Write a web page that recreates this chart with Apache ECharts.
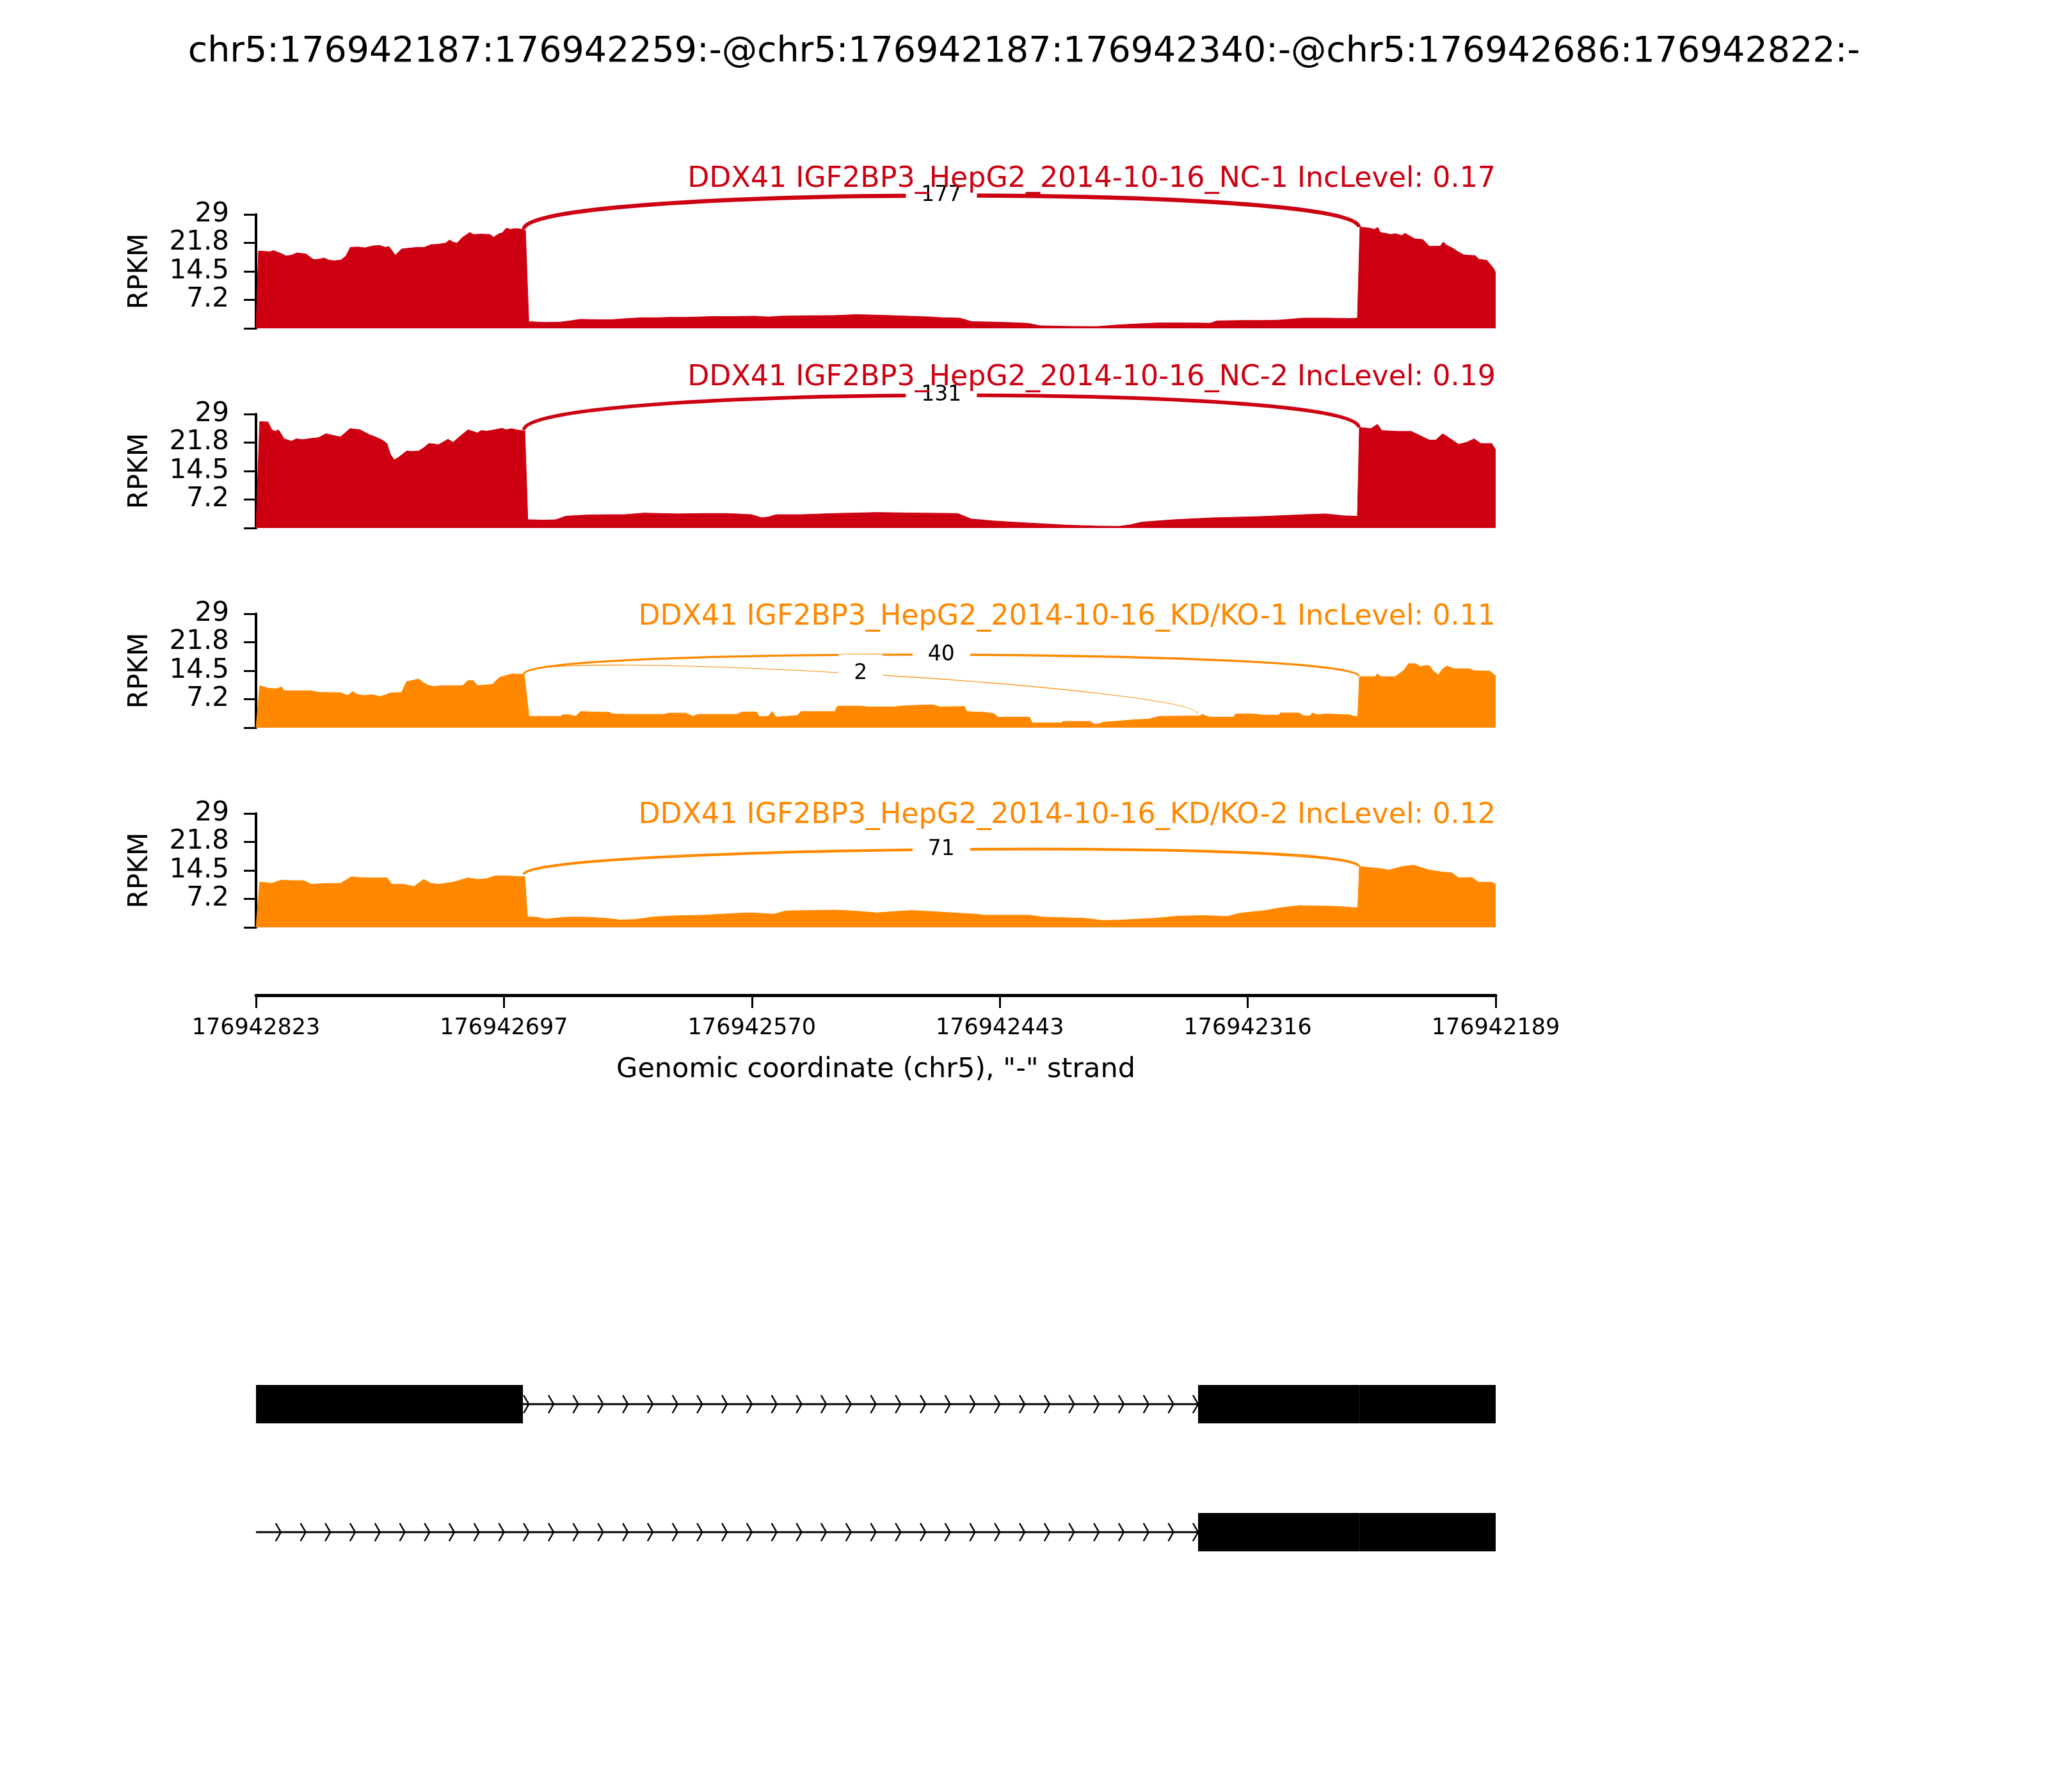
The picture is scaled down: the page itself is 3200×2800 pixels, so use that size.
<!DOCTYPE html>
<html><head><meta charset="utf-8">
<script src="https://cdn.jsdelivr.net/npm/echarts@6/dist/echarts.min.js"></script>
<style>html,body{margin:0;padding:0;background:#fff}#c{width:3200px;height:2800px}</style>
</head><body><div id="c"></div>
<script>
// ---------------- data ----------------
const mainTitle = 'chr5:176942187:176942259:-@chr5:176942187:176942340:-@chr5:176942686:176942822:-';
const panelTitles = [
  'DDX41 IGF2BP3_HepG2_2014-10-16_NC-1 IncLevel: 0.17',
  'DDX41 IGF2BP3_HepG2_2014-10-16_NC-2 IncLevel: 0.19',
  'DDX41 IGF2BP3_HepG2_2014-10-16_KD/KO-1 IncLevel: 0.11',
  'DDX41 IGF2BP3_HepG2_2014-10-16_KD/KO-2 IncLevel: 0.12'
];
const panelColors = ['#CC0011', '#CC0011', '#FF8800', '#FF8800'];
const xTickLabels = ['176942823', '176942697', '176942570', '176942443', '176942316', '176942189'];
const yTickLabels = ['', '7.2', '14.5', '21.8', '29'];
const xAxisName = 'Genomic coordinate (chr5), "-" strand';
const yAxisName = 'RPKM';

// coverage: [offset from 176942823 (bp), RPKM]
const cov1 = [[0,0],[1.3,19.7],[4,19.6],[7,19.5],[9,19.8],[11.5,19.3],[13.5,18.9],[15.4,18.4],[18,18.6],[21,19.2],[25.7,18.9],[28,18.0],[29.5,17.5],[32,17.6],[35,17.9],[37,17.4],[39.8,17.2],[43.5,17.4],[46,18.4],[48.2,20.6],[52,20.7],[55.8,20.5],[60,21.0],[63.3,21.1],[66,20.6],[68,20.8],[69.5,19.8],[71.2,18.6],[74.5,20.2],[78,20.4],[82,20.6],[86,20.6],[89.5,21.3],[93,21.4],[97,21.7],[99,22.5],[101,21.9],[102.8,21.7],[105.5,23.1],[109.3,24.4],[111.2,23.9],[115,24.0],[119.6,23.9],[121.5,23.2],[124.4,24.1],[126,24.3],[128,25.5],[130,25.2],[132.8,25.4],[136.5,25.2],[137.8,25.0],[139.5,1.7],[144,1.6],[148,1.5],[156,1.6],[162,2.0],[166,2.3],[175,2.2],[182,2.2],[190,2.5],[197,2.7],[205,2.7],[211,2.8],[220,2.8],[234,3.0],[245,3.0],[255,3.1],[262,2.9],[268,3.1],[280,3.2],[296,3.25],[307,3.5],[319,3.35],[334,3.1],[345,2.9],[351,2.7],[360,2.6],[366,1.7],[377,1.6],[390,1.4],[395,1.25],[401,0.65],[415,0.5],[430,0.45],[439,0.8],[446,1.0],[453.7,1.2],[462,1.4],[475,1.4],[488,1.3],[491.6,1.9],[505,2.0],[515,2.0],[523.7,2.1],[535.5,2.6],[548,2.6],[558.8,2.5],[563.3,2.6],[564.6,25.8],[569.6,25.5],[572,25.2],[573.7,25.7],[575,24.4],[578.3,24.1],[580.4,23.9],[583,24.1],[585.9,23.6],[587.6,24.2],[592.5,22.8],[596.7,22.6],[600,20.9],[605.6,20.9],[607.2,22.0],[608.8,21.2],[612,20.4],[614.7,19.5],[617.7,18.7],[623.6,18.5],[625.3,17.6],[629.5,17.3],[631,16.4],[633,15.2],[634,14.1]];
const cov2 = [[0,0],[1.9,27.1],[6.1,27.0],[8.1,25.0],[10,24.6],[11.5,25.0],[14.4,22.7],[18.1,22.1],[20.6,22.7],[24,22.5],[28.2,22.8],[32,23.0],[35.7,24.0],[40,23.5],[43.2,23.2],[48.1,25.3],[53.2,25.0],[58.2,23.7],[61,23.2],[64.5,22.4],[67,21.5],[68.7,18.8],[70.7,17.3],[73.2,18.1],[77,19.6],[80,19.5],[83.2,19.6],[86,20.5],[88.3,21.5],[91,21.4],[93.3,21.2],[98.2,22.6],[100.8,21.8],[104,23.2],[108.4,25.0],[113.3,24.2],[115,24.8],[118.2,24.7],[122.1,25.0],[125.8,25.4],[128,25.0],[130.8,25.3],[133,25.0],[135.8,24.8],[137.5,24.8],[139,2.1],[140.8,2.1],[147,2.0],[153.3,2.1],[158.4,3.0],[168.4,3.3],[178.4,3.4],[188.4,3.4],[198.4,3.8],[216,3.6],[228.5,3.7],[241,3.7],[253.5,3.4],[258.6,2.6],[262,2.8],[266,3.4],[278.6,3.4],[296,3.7],[317.5,3.95],[340,3.8],[358.8,3.7],[365.8,2.3],[377.2,1.8],[395.6,1.25],[405,1.0],[416.3,0.7],[430,0.5],[441.6,0.43],[447,0.8],[453,1.5],[469,2.1],[489.7,2.6],[512.7,2.9],[535.7,3.4],[547,3.6],[556.5,3.1],[563.3,3.0],[564.3,25.6],[570.2,25.3],[573.5,26.4],[575.8,24.8],[584,24.6],[590.8,24.6],[595,23.6],[600,22.4],[603.4,22.4],[606.9,24.0],[610,23.0],[615,21.3],[619,21.8],[623,22.7],[626.4,21.5],[632,21.5],[634,19.9]];
const cov3 = [[0,0],[1.9,10.7],[5.6,10.1],[10.6,9.9],[13.1,10.4],[14.4,9.4],[28.2,9.4],[31.9,9.0],[43.2,8.9],[46.9,8.2],[49.4,9.2],[51.5,8.5],[54.4,8.2],[60,8.4],[63.2,7.9],[66,8.3],[68.2,8.8],[74.5,9.0],[77,11.7],[83.3,12.4],[85.8,11.4],[88,10.8],[90.8,10.5],[95.7,10.7],[105.7,10.7],[108.3,12.0],[111,12.0],[113.3,10.7],[120.8,11.0],[124.5,12.8],[130.8,13.7],[137.2,13.6],[139.6,2.9],[155.8,2.9],[157,3.3],[160,3.3],[163.4,2.9],[166,4.1],[181,3.9],[182,3.5],[191,3.4],[208.5,3.4],[211,3.7],[219.7,3.7],[223.5,2.9],[226,3.4],[246,3.4],[248.5,4.0],[256,4.0],[257.3,2.8],[262,2.9],[264,4.1],[266,2.7],[271,2.9],[277,3.1],[278.6,4.1],[296,4.1],[297.4,5.5],[308.7,5.5],[313,5.3],[327,5.3],[329,5.5],[340.4,5.76],[347,5.76],[349.6,5.3],[362.4,5.4],[363.4,4.1],[372.7,3.9],[377.2,3.6],[379.6,2.66],[395.6,2.7],[396.9,1.25],[411.7,1.25],[412.9,1.6],[426.6,1.6],[428.9,0.87],[431,1.0],[433.4,1.4],[441.6,1.7],[448.4,2.0],[456.5,2.2],[462.2,2.9],[482.8,3.0],[484,3.4],[487.4,2.7],[500,2.7],[501,3.5],[510,3.5],[515,3.2],[523,3.2],[524,3.75],[533.4,3.75],[535.7,3.0],[539,3.0],[540.3,3.75],[542.6,3.3],[547,3.5],[558.7,3.3],[562,2.9],[563.5,2.9],[564.3,13.0],[572.4,13.0],[573.5,13.75],[575.1,13.0],[582.7,13.0],[584.5,13.7],[587.2,14.7],[589.5,16.3],[593.1,16.3],[595.4,15.55],[598,15.8],[600,15.8],[602,14.5],[604.6,13.4],[606.9,15.0],[609.2,15.7],[612.6,15.0],[620.6,15.0],[623,14.5],[631,14.4],[634,13.2]];
const cov4 = [[0,0],[1.9,11.5],[5,11.4],[8.1,11.2],[13.1,12.05],[18,11.9],[24.4,11.9],[28.2,10.96],[35.7,11.2],[43.2,11.2],[48.9,12.9],[52,12.7],[58.3,12.6],[67,12.6],[69.5,10.96],[75.6,10.96],[80.8,10.4],[85.8,12.2],[89.5,11.2],[93.3,10.96],[100.8,11.5],[108.3,12.6],[113.3,12.2],[118,12.4],[122.1,13.1],[128.3,13.1],[135.8,12.9],[137.5,12.9],[138.8,2.66],[143.4,2.6],[148.3,2.1],[158.4,2.6],[168.4,2.6],[178.4,2.33],[185.9,1.9],[193.5,1.98],[203.4,2.66],[213.4,2.93],[228.5,3.1],[248.5,3.64],[253.5,3.7],[264.8,3.37],[271,4.2],[285,4.3],[296,4.4],[305,4.2],[317.5,3.7],[334.9,4.3],[349.6,3.9],[368,3.37],[372.7,3.1],[395.6,3.1],[402.6,2.6],[423.2,2.33],[433.5,1.74],[443.9,1.9],[460,2.33],[471.4,2.85],[485,3.0],[496.6,2.77],[503.4,3.64],[515,4.2],[524.2,5.0],[533.4,5.54],[547.2,5.4],[555,5.3],[562,5.0],[563.5,5.0],[564.3,15.5],[570,15.2],[574.8,15.0],[579.4,14.6],[586.3,15.5],[592,15.85],[596,15.2],[600,14.6],[607,14.06],[611.5,13.9],[615,12.6],[621.8,12.7],[625.2,11.5],[632,11.5],[634,10.96]];

// junctions: [donor offset, acceptor offset, left RPKM, right RPKM, arc height (RPKM), read count]
const junc1 = [[137, 564, 25.3, 25.8, 11.0, 177]];
const junc2 = [[137, 564, 25.0, 25.6, 11.3, 131]];
const junc3 = [[137, 564, 13.7, 13.1, 6.9, 40], [137, 481.5, 13.7, 3.5, 6.8, 2]];
const junc4 = [[137, 564, 13.5, 15.5, 7.1, 71]];

// gene structure (offsets in bp), isoform categories
const isoforms = ['isoform2', 'isoform1'];
const exonsIso1 = [[0, 136.5], [481.8, 564], [564, 634]];
const intronsIso1 = [[136.5, 481.8]];
const exonsIso2 = [[481.8, 564], [564, 634]];
const intronsIso2 = [[0, 481.8]];
const strandArrows = [12.7,25.4,38.0,50.7,63.4,76.1,88.8,101.4,114.1,126.8,139.5,152.2,164.8,177.5,190.2,202.9,215.6,228.2,240.9,253.6,266.3,279.0,291.6,304.3,317.0,329.7,342.4,355.0,367.7,380.4,393.1,405.8,418.4,431.1,443.8,456.5,469.2,481.8];

// ---------------- chart ----------------
const FONT = '"DejaVu Sans", "Liberation Sans", sans-serif';
const X_MIN = 0, X_MAX = 634, X_INT = 126.8;
const covs = [cov1, cov2, cov3, cov4];
const juncs = [junc1, junc2, junc3, junc4];
const panelTops = [335, 647, 959, 1271];
const panelH = 178;
const titleTops = [258, 568, 942, 1252];
const L = 400, R = 863;

const grids = [], xAxes = [], yAxes = [], series = [];
for (let i = 0; i < 4; i++) {
  grids.push({left: L, right: R, top: panelTops[i], height: panelH});
  xAxes.push({gridIndex: i, type: 'value', min: X_MIN, max: X_MAX, show: false});
  yAxes.push({
    gridIndex: i, type: 'value', min: 0, max: 29, interval: 7.25,
    name: yAxisName, nameLocation: 'middle', nameGap: 160, nameRotate: 90,
    nameTextStyle: {fontSize: 42, color: '#000', fontFamily: FONT},
    axisLine: {show: true, onZero: false, lineStyle: {color: '#000', width: 4}},
    axisTick: {show: true, length: 19, lineStyle: {color: '#000', width: 3}},
    axisLabel: {margin: 42, fontSize: 42, color: '#000', fontFamily: FONT,
      formatter: (v, idx) => yTickLabels[idx] == null ? '' : yTickLabels[idx]},
    splitLine: {show: false}
  });
  series.push({
    type: 'line', xAxisIndex: i, yAxisIndex: i, data: covs[i], symbol: 'none',
    lineStyle: {width: 1, color: panelColors[i]}, itemStyle: {color: panelColors[i]},
    areaStyle: {color: panelColors[i], opacity: 1}, z: 2, animation: false
  });
  const color = panelColors[i];
  series.push({
    type: 'custom', xAxisIndex: i, yAxisIndex: i, data: juncs[i], clip: false, z: 3,
    encode: {x: [0, 1], y: [2, 3]},
    renderItem: function (params, api) {
      const x1 = api.value(0), x2 = api.value(1), y1 = api.value(2), y2 = api.value(3), h = api.value(4), n = api.value(5);
      const p0 = api.coord([x1, y1]), p1 = api.coord([x1, y1 + h]), p2 = api.coord([x2, y2 + h]), p3 = api.coord([x2, y2]);
      const mx = (p0[0] + 3 * p1[0] + 3 * p2[0] + p3[0]) / 8;
      const my = (p0[1] + 3 * p1[1] + 3 * p2[1] + p3[1]) / 8;
      const w = 0.5 + 0.45 * Math.sqrt(n);
      return {type: 'group', children: [
        {type: 'bezierCurve', z2: 1,
          shape: {x1: p0[0], y1: p0[1], cpx1: p1[0], cpy1: p1[1], cpx2: p2[0], cpy2: p2[1], x2: p3[0], y2: p3[1]},
          style: {stroke: color, lineWidth: w, fill: 'none'}},
        {type: 'text', z2: 100, x: mx, y: my,
          style: {text: String(n), fill: '#000', fontSize: 33, fontFamily: FONT, align: 'center', verticalAlign: 'middle',
            backgroundColor: '#fff', padding: [14, 24]}}
      ]};
    }
  });
}

// genomic coordinate axis
grids.push({left: L, right: R, top: 1455, height: 100});
xAxes.push({
  gridIndex: 4, type: 'value', min: X_MIN, max: X_MAX, interval: X_INT, position: 'bottom',
  name: xAxisName, nameLocation: 'middle', nameGap: 95,
  nameTextStyle: {fontSize: 43, color: '#000', fontFamily: FONT},
  axisLine: {show: true, onZero: false, lineStyle: {color: '#000', width: 5}},
  axisTick: {show: true, length: 20, lineStyle: {color: '#000', width: 3}},
  axisLabel: {margin: 34, fontSize: 35, color: '#000', fontFamily: FONT, showMinLabel: true, showMaxLabel: true,
    formatter: (v, idx) => xTickLabels[idx] == null ? '' : xTickLabels[idx]},
  splitLine: {show: false}
});
yAxes.push({gridIndex: 4, type: 'value', min: 0, max: 1, show: false});

// gene structure
grids.push({left: L, right: R, top: 2094, height: 400});
xAxes.push({gridIndex: 5, type: 'value', min: X_MIN, max: X_MAX, show: false});
yAxes.push({gridIndex: 5, type: 'category', data: isoforms, show: false});

const intronData = intronsIso1.map(d => [d[0], d[1], 1]).concat(intronsIso2.map(d => [d[0], d[1], 0]));
const exonData = exonsIso1.map(d => [d[0], d[1], 1]).concat(exonsIso2.map(d => [d[0], d[1], 0]));
const arrowData = [];
intronsIso1.forEach(r => strandArrows.forEach(p => { if (p > r[0] && p <= r[1] + 0.5) arrowData.push([p, 1]); }));
intronsIso2.forEach(r => strandArrows.forEach(p => { if (p > r[0] && p <= r[1] + 0.5) arrowData.push([p, 0]); }));

series.push({
  type: 'custom', xAxisIndex: 5, yAxisIndex: 5, data: intronData, encode: {x: [0, 1], y: 2}, z: 3,
  renderItem: (params, api) => {
    const s = api.coord([api.value(0), api.value(2)]), e = api.coord([api.value(1), api.value(2)]);
    return {type: 'line', shape: {x1: s[0], y1: s[1], x2: e[0], y2: e[1]}, style: {stroke: '#000', lineWidth: 3}};
  }
});
series.push({
  type: 'custom', xAxisIndex: 5, yAxisIndex: 5, data: arrowData, encode: {x: 0, y: 1}, z: 3,
  renderItem: (params, api) => {
    const p = api.coord([api.value(0), api.value(1)]);
    return {type: 'polyline', shape: {points: [[p[0] - 8, p[1] - 14], [p[0], p[1]], [p[0] - 8, p[1] + 14]]},
      style: {stroke: '#000', lineWidth: 2.5, fill: 'none'}};
  }
});
series.push({
  type: 'custom', xAxisIndex: 5, yAxisIndex: 5, data: exonData, encode: {x: [0, 1], y: 2}, z: 4,
  renderItem: (params, api) => {
    const s = api.coord([api.value(0), api.value(2)]), e = api.coord([api.value(1), api.value(2)]);
    return {type: 'rect', shape: {x: s[0], y: s[1] - 30, width: e[0] - s[0], height: 60}, style: {fill: '#000'}};
  }
});

const titles = [{text: mainTitle, left: 'center', top: 54, padding: 0, z: 12,
  textStyle: {fontSize: 55.4, fontWeight: 'normal', color: '#000', fontFamily: FONT}}];
panelTitles.forEach((t, i) => titles.push({text: t, right: R, top: titleTops[i], padding: 0, z: 12,
  textStyle: {fontSize: 44.3, fontWeight: 'normal', color: panelColors[i], fontFamily: FONT}}));

const chart = echarts.init(document.getElementById('c'), null, {renderer: 'canvas'});
chart.setOption({
  backgroundColor: '#fff', animation: false,
  title: titles, grid: grids, xAxis: xAxes, yAxis: yAxes, series: series
});
</script></body></html>
